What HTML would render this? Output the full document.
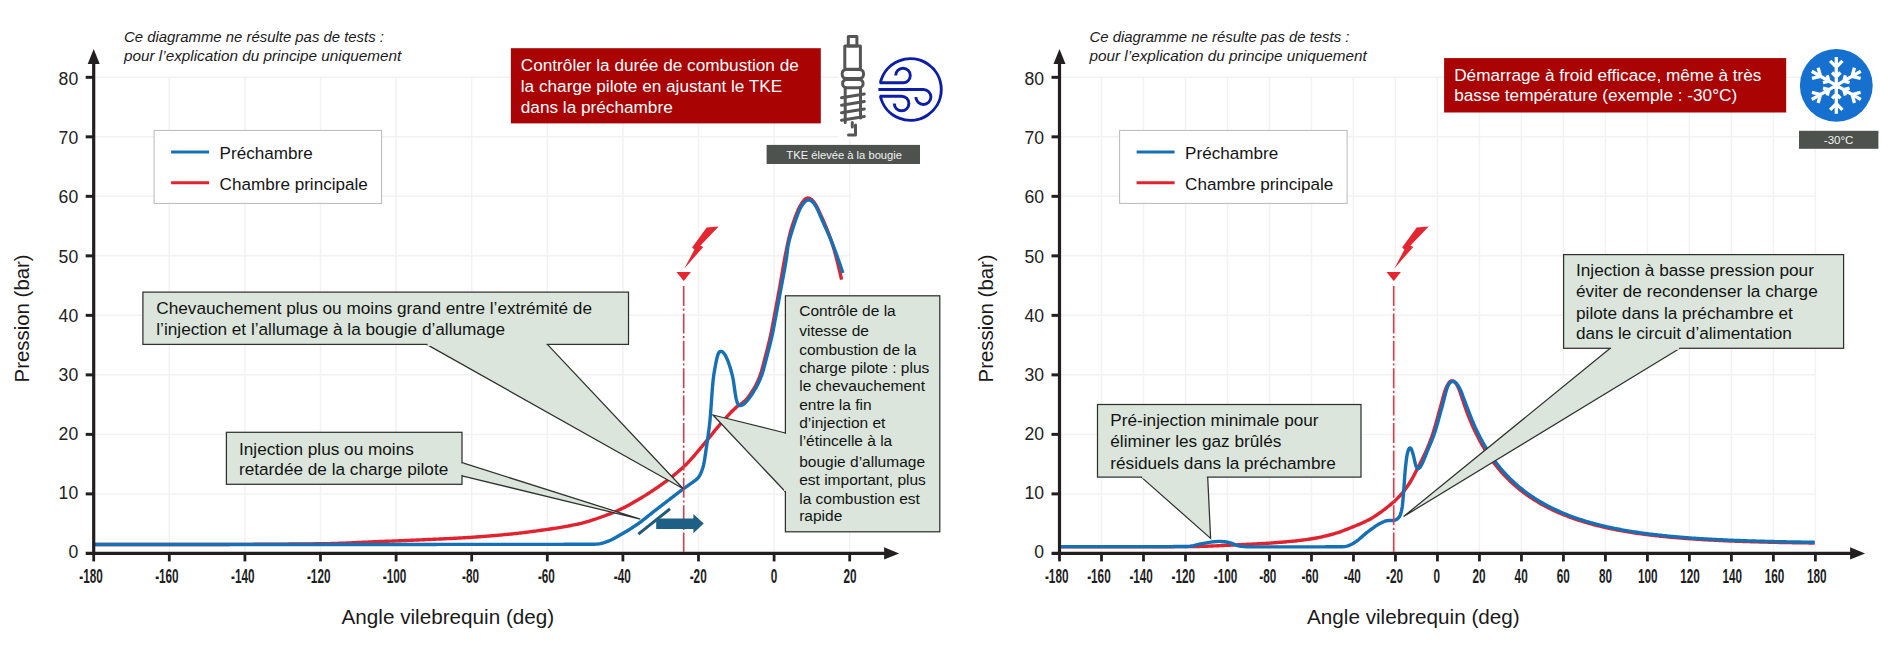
<!DOCTYPE html>
<html><head><meta charset="utf-8"><style>
html,body{margin:0;padding:0;background:#fff;}
svg{display:block;font-family:"Liberation Sans", sans-serif;}
</style></head><body>
<svg width="1900" height="659" viewBox="0 0 1900 659">
<rect width="1900" height="659" fill="#fff"/>
<line x1="169.3" y1="77.32" x2="169.3" y2="553.4" stroke="#f2f2f2" stroke-width="1.5"/>
<line x1="244.9" y1="77.32" x2="244.9" y2="553.4" stroke="#f2f2f2" stroke-width="1.5"/>
<line x1="320.5" y1="77.32" x2="320.5" y2="553.4" stroke="#f2f2f2" stroke-width="1.5"/>
<line x1="396.1" y1="77.32" x2="396.1" y2="553.4" stroke="#f2f2f2" stroke-width="1.5"/>
<line x1="471.7" y1="77.32" x2="471.7" y2="553.4" stroke="#f2f2f2" stroke-width="1.5"/>
<line x1="547.3" y1="77.32" x2="547.3" y2="553.4" stroke="#f2f2f2" stroke-width="1.5"/>
<line x1="622.9" y1="77.32" x2="622.9" y2="553.4" stroke="#f2f2f2" stroke-width="1.5"/>
<line x1="698.5" y1="77.32" x2="698.5" y2="553.4" stroke="#f2f2f2" stroke-width="1.5"/>
<line x1="774.1" y1="77.32" x2="774.1" y2="553.4" stroke="#f2f2f2" stroke-width="1.5"/>
<line x1="849.7" y1="77.32" x2="849.7" y2="553.4" stroke="#f2f2f2" stroke-width="1.5"/>
<line x1="93.7" y1="493.89" x2="849.7" y2="493.89" stroke="#f2f2f2" stroke-width="1.5"/>
<line x1="93.7" y1="434.38" x2="849.7" y2="434.38" stroke="#f2f2f2" stroke-width="1.5"/>
<line x1="93.7" y1="374.87" x2="849.7" y2="374.87" stroke="#f2f2f2" stroke-width="1.5"/>
<line x1="93.7" y1="315.36" x2="849.7" y2="315.36" stroke="#f2f2f2" stroke-width="1.5"/>
<line x1="93.7" y1="255.85" x2="849.7" y2="255.85" stroke="#f2f2f2" stroke-width="1.5"/>
<line x1="93.7" y1="196.34" x2="849.7" y2="196.34" stroke="#f2f2f2" stroke-width="1.5"/>
<line x1="93.7" y1="136.83" x2="849.7" y2="136.83" stroke="#f2f2f2" stroke-width="1.5"/>
<line x1="93.7" y1="77.32" x2="849.7" y2="77.32" stroke="#f2f2f2" stroke-width="1.5"/>
<line x1="1101.5" y1="77.32" x2="1101.5" y2="553.4" stroke="#f2f2f2" stroke-width="1.5"/>
<line x1="1143.49" y1="77.32" x2="1143.49" y2="553.4" stroke="#f2f2f2" stroke-width="1.5"/>
<line x1="1185.49" y1="77.32" x2="1185.49" y2="553.4" stroke="#f2f2f2" stroke-width="1.5"/>
<line x1="1227.48" y1="77.32" x2="1227.48" y2="553.4" stroke="#f2f2f2" stroke-width="1.5"/>
<line x1="1269.47" y1="77.32" x2="1269.47" y2="553.4" stroke="#f2f2f2" stroke-width="1.5"/>
<line x1="1311.47" y1="77.32" x2="1311.47" y2="553.4" stroke="#f2f2f2" stroke-width="1.5"/>
<line x1="1353.46" y1="77.32" x2="1353.46" y2="553.4" stroke="#f2f2f2" stroke-width="1.5"/>
<line x1="1395.46" y1="77.32" x2="1395.46" y2="553.4" stroke="#f2f2f2" stroke-width="1.5"/>
<line x1="1437.45" y1="77.32" x2="1437.45" y2="553.4" stroke="#f2f2f2" stroke-width="1.5"/>
<line x1="1479.44" y1="77.32" x2="1479.44" y2="553.4" stroke="#f2f2f2" stroke-width="1.5"/>
<line x1="1521.44" y1="77.32" x2="1521.44" y2="553.4" stroke="#f2f2f2" stroke-width="1.5"/>
<line x1="1563.43" y1="77.32" x2="1563.43" y2="553.4" stroke="#f2f2f2" stroke-width="1.5"/>
<line x1="1605.43" y1="77.32" x2="1605.43" y2="553.4" stroke="#f2f2f2" stroke-width="1.5"/>
<line x1="1647.42" y1="77.32" x2="1647.42" y2="553.4" stroke="#f2f2f2" stroke-width="1.5"/>
<line x1="1689.41" y1="77.32" x2="1689.41" y2="553.4" stroke="#f2f2f2" stroke-width="1.5"/>
<line x1="1731.41" y1="77.32" x2="1731.41" y2="553.4" stroke="#f2f2f2" stroke-width="1.5"/>
<line x1="1773.4" y1="77.32" x2="1773.4" y2="553.4" stroke="#f2f2f2" stroke-width="1.5"/>
<line x1="1815.4" y1="77.32" x2="1815.4" y2="553.4" stroke="#f2f2f2" stroke-width="1.5"/>
<line x1="1059.5" y1="493.89" x2="1815.4" y2="493.89" stroke="#f2f2f2" stroke-width="1.5"/>
<line x1="1059.5" y1="434.38" x2="1815.4" y2="434.38" stroke="#f2f2f2" stroke-width="1.5"/>
<line x1="1059.5" y1="374.87" x2="1815.4" y2="374.87" stroke="#f2f2f2" stroke-width="1.5"/>
<line x1="1059.5" y1="315.36" x2="1815.4" y2="315.36" stroke="#f2f2f2" stroke-width="1.5"/>
<line x1="1059.5" y1="255.85" x2="1815.4" y2="255.85" stroke="#f2f2f2" stroke-width="1.5"/>
<line x1="1059.5" y1="196.34" x2="1815.4" y2="196.34" stroke="#f2f2f2" stroke-width="1.5"/>
<line x1="1059.5" y1="136.83" x2="1815.4" y2="136.83" stroke="#f2f2f2" stroke-width="1.5"/>
<line x1="1059.5" y1="77.32" x2="1815.4" y2="77.32" stroke="#f2f2f2" stroke-width="1.5"/>
<rect x="154.1" y="130.4" width="227.5" height="73" fill="#fff" stroke="#b9b9b9" stroke-width="1"/>
<line x1="171.1" y1="152.1" x2="209.1" y2="152.1" stroke="#1670b5" stroke-width="3"/>
<line x1="171.1" y1="182.7" x2="209.1" y2="182.7" stroke="#e1232f" stroke-width="3"/>
<text x="219.6" y="158.7" font-size="17.1" fill="#141414" text-anchor="start" >Préchambre</text>
<text x="219.6" y="189.9" font-size="17.1" fill="#141414" text-anchor="start" >Chambre principale</text>
<rect x="1119.6" y="130.4" width="227.5" height="73" fill="#fff" stroke="#b9b9b9" stroke-width="1"/>
<line x1="1136.6" y1="152.1" x2="1174.6" y2="152.1" stroke="#1670b5" stroke-width="3"/>
<line x1="1136.6" y1="182.7" x2="1174.6" y2="182.7" stroke="#e1232f" stroke-width="3"/>
<text x="1185.1" y="158.7" font-size="17.1" fill="#141414" text-anchor="start" >Préchambre</text>
<text x="1185.1" y="189.9" font-size="17.1" fill="#141414" text-anchor="start" >Chambre principale</text>
<text x="124" y="41.8" font-size="14.9" fill="#1a1a1a" text-anchor="start" font-style="italic">Ce diagramme ne résulte pas de tests :</text>
<text x="124" y="60.6" font-size="15.3" fill="#1a1a1a" text-anchor="start" font-style="italic">pour l’explication du principe uniquement</text>
<text x="1089.5" y="41.8" font-size="14.9" fill="#1a1a1a" text-anchor="start" font-style="italic">Ce diagramme ne résulte pas de tests :</text>
<text x="1089.5" y="60.6" font-size="15.3" fill="#1a1a1a" text-anchor="start" font-style="italic">pour l’explication du principe uniquement</text>
<path d="M94.46,544.48L95.44,544.48L96.75,544.48L98.22,544.48L99.72,544.49L101.22,544.49L102.72,544.49L104.23,544.49L105.73,544.5L107.23,544.5L108.74,544.5L110.24,544.5L111.75,544.51L113.25,544.51L114.75,544.51L116.26,544.51L117.76,544.51L119.27,544.51L120.77,544.52L122.27,544.52L123.78,544.52L125.28,544.52L126.79,544.52L128.29,544.52L129.79,544.52L131.3,544.52L132.8,544.52L134.3,544.52L135.81,544.52L137.31,544.52L138.82,544.52L140.32,544.52L141.82,544.52L143.33,544.52L144.83,544.52L146.34,544.52L147.84,544.52L149.34,544.52L150.85,544.52L152.35,544.52L153.85,544.52L155.36,544.52L156.86,544.52L158.37,544.52L159.87,544.52L161.37,544.51L162.88,544.51L164.38,544.51L165.89,544.51L167.39,544.51L168.89,544.51L170.4,544.51L171.9,544.51L173.41,544.51L174.91,544.5L176.41,544.5L177.92,544.5L179.42,544.5L180.92,544.5L182.43,544.5L183.93,544.5L185.44,544.49L186.94,544.49L188.44,544.49L189.95,544.49L191.45,544.49L192.96,544.49L194.46,544.49L195.96,544.48L197.47,544.48L198.97,544.48L200.47,544.48L201.98,544.48L203.48,544.48L204.99,544.48L206.49,544.47L207.99,544.47L209.5,544.47L211,544.47L212.51,544.47L214.01,544.46L215.51,544.46L217.02,544.46L218.52,544.46L220.03,544.45L221.53,544.45L223.03,544.45L224.54,544.44L226.04,544.44L227.54,544.43L229.05,544.43L230.55,544.42L232.06,544.42L233.56,544.41L235.06,544.41L236.57,544.4L238.07,544.4L239.58,544.39L241.08,544.39L242.58,544.38L244.09,544.37L245.59,544.37L247.09,544.36L248.6,544.35L250.1,544.34L251.61,544.34L253.11,544.33L254.61,544.32L256.12,544.31L257.62,544.3L259.13,544.29L260.63,544.28L262.13,544.28L263.64,544.27L265.14,544.26L266.64,544.25L268.15,544.24L269.65,544.23L271.16,544.22L272.66,544.21L274.16,544.19L275.67,544.18L277.17,544.17L278.68,544.16L280.18,544.15L281.68,544.14L283.19,544.12L284.69,544.11L286.19,544.1L287.7,544.09L289.2,544.07L290.71,544.06L292.21,544.05L293.71,544.03L295.22,544.02L296.72,544.01L298.22,543.99L299.73,543.98L301.23,543.96L302.74,543.95L304.24,543.93L305.74,543.92L307.25,543.9L308.75,543.89L310.26,543.87L311.76,543.86L313.26,543.84L314.77,543.82L316.27,543.81L317.77,543.79L319.28,543.77L320.78,543.75L322.29,543.73L323.79,543.71L325.29,543.68L326.8,543.65L328.3,543.62L329.8,543.58L331.31,543.55L332.81,543.5L334.31,543.46L335.82,543.41L337.32,543.36L338.82,543.31L340.33,543.26L341.83,543.2L343.33,543.15L344.83,543.09L346.34,543.03L347.84,542.97L349.34,542.9L350.84,542.84L352.35,542.77L353.85,542.71L355.35,542.64L356.85,542.57L358.36,542.5L359.86,542.43L361.36,542.37L362.86,542.3L364.36,542.23L365.87,542.16L367.37,542.09L368.87,542.02L370.37,541.95L371.88,541.89L373.38,541.82L374.88,541.75L376.38,541.69L377.89,541.63L379.39,541.56L380.89,541.5L382.39,541.44L383.9,541.38L385.4,541.32L386.9,541.26L388.4,541.2L389.91,541.14L391.41,541.08L392.91,541.02L394.42,540.96L395.92,540.9L397.42,540.84L398.92,540.78L400.43,540.72L401.93,540.65L403.43,540.59L404.93,540.53L406.44,540.47L407.94,540.41L409.44,540.34L410.94,540.28L412.45,540.22L413.95,540.15L415.45,540.09L416.95,540.03L418.46,539.96L419.96,539.9L421.46,539.83L422.96,539.77L424.47,539.7L425.97,539.63L427.47,539.57L428.97,539.5L430.48,539.43L431.98,539.36L433.48,539.3L434.98,539.23L436.49,539.16L437.99,539.09L439.49,539.02L440.99,538.95L442.49,538.88L444,538.8L445.5,538.73L447,538.66L448.5,538.59L450,538.51L451.51,538.44L453.01,538.36L454.51,538.29L456.01,538.21L457.51,538.13L459.02,538.06L460.52,537.98L462.02,537.9L463.52,537.81L465.02,537.73L466.52,537.64L468.03,537.54L469.53,537.45L471.03,537.35L472.53,537.25L474.03,537.15L475.53,537.04L477.03,536.93L478.53,536.82L480.03,536.71L481.53,536.6L483.03,536.48L484.53,536.36L486.02,536.24L487.52,536.12L489.02,536L490.52,535.87L492.02,535.75L493.52,535.62L495.02,535.49L496.51,535.36L498.01,535.22L499.51,535.09L501.01,534.96L502.51,534.82L504,534.68L505.5,534.55L507,534.41L508.5,534.27L509.99,534.13L511.49,533.98L512.99,533.83L514.48,533.68L515.98,533.52L517.47,533.35L518.97,533.18L520.46,533.01L521.95,532.83L523.45,532.65L524.94,532.46L526.43,532.27L527.92,532.08L529.41,531.88L530.9,531.68L532.39,531.48L533.88,531.28L535.37,531.08L536.86,530.87L538.35,530.67L539.84,530.46L541.33,530.25L542.82,530.04L544.31,529.84L545.8,529.63L547.29,529.42L548.78,529.21L550.27,528.99L551.76,528.77L553.24,528.55L554.73,528.32L556.21,528.09L557.7,527.85L559.18,527.61L560.67,527.36L562.15,527.11L563.63,526.85L565.11,526.59L566.59,526.32L568.07,526.05L569.55,525.77L571.03,525.48L572.5,525.19L573.98,524.9L575.45,524.6L576.92,524.29L578.39,523.97L579.86,523.64L581.32,523.29L582.78,522.92L584.23,522.54L585.68,522.14L587.13,521.72L588.57,521.3L590.01,520.85L591.44,520.4L592.87,519.94L594.3,519.47L595.72,518.99L597.15,518.5L598.57,518.01L599.99,517.51L601.4,517.01L602.82,516.5L604.24,515.99L605.65,515.48L607.06,514.97L608.47,514.45L609.88,513.92L611.28,513.37L612.67,512.8L614.06,512.22L615.44,511.63L616.82,511.02L618.19,510.4L619.55,509.76L620.91,509.12L622.26,508.47L623.61,507.8L624.96,507.13L626.29,506.43L627.62,505.73L628.94,505L630.25,504.27L631.56,503.53L632.86,502.78L634.16,502.03L635.46,501.27L636.76,500.51L638.06,499.75L639.35,498.98L640.64,498.21L641.93,497.44L643.22,496.66L644.5,495.88L645.78,495.08L647.05,494.28L648.32,493.48L649.59,492.66L650.85,491.84L652.1,491.01L653.35,490.17L654.59,489.33L655.84,488.48L657.08,487.63L658.31,486.77L659.55,485.91L660.78,485.05L662,484.18L663.22,483.3L664.44,482.42L665.66,481.53L666.86,480.64L668.07,479.73L669.27,478.83L670.46,477.91L671.65,476.99L672.83,476.06L674,475.12L675.17,474.17L676.33,473.21L677.49,472.25L678.63,471.28L679.77,470.3L680.91,469.31L682.03,468.31L683.15,467.3L684.25,466.28L685.33,465.24L686.4,464.18L687.46,463.11L688.5,462.03L689.53,460.93L690.54,459.82L691.55,458.7L692.55,457.58L693.54,456.44L694.52,455.31L695.49,454.16L696.47,453.01L697.43,451.86L698.4,450.71L699.36,449.55L700.32,448.4L701.28,447.24L702.24,446.08L703.2,444.93L704.17,443.77L705.13,442.62L706.1,441.47L707.06,440.31L708.02,439.15L708.96,437.98L709.91,436.81L710.84,435.63L711.78,434.45L712.71,433.28L713.65,432.1L714.6,430.93L715.55,429.77L716.5,428.61L717.47,427.46L718.45,426.31L719.43,425.18L720.42,424.04L721.41,422.91L722.4,421.78L723.39,420.65L724.39,419.52L725.39,418.4L726.4,417.28L727.41,416.17L728.43,415.07L729.46,413.97L730.5,412.88L731.54,411.8L732.6,410.73L733.67,409.68L734.76,408.64L735.87,407.63L737.02,406.66L738.22,405.76L739.46,404.91L740.72,404.1L741.97,403.27L743.18,402.39L744.33,401.43L745.41,400.39L746.43,399.29L747.39,398.14L748.32,396.96L749.22,395.75L750.09,394.53L750.94,393.29L751.78,392.04L752.61,390.79L753.42,389.52L754.2,388.24L754.95,386.93L755.66,385.61L756.34,384.27L756.99,382.91L757.61,381.55L758.21,380.17L758.79,378.78L759.35,377.38L759.89,375.98L760.4,374.57L760.89,373.14L761.34,371.71L761.77,370.27L762.18,368.82L762.57,367.37L762.96,365.92L763.34,364.46L763.71,363.01L764.09,361.55L764.46,360.09L764.83,358.64L765.21,357.18L765.59,355.72L765.97,354.27L766.35,352.82L766.73,351.36L767.11,349.9L767.48,348.45L767.85,346.99L768.22,345.53L768.58,344.07L768.93,342.61L769.29,341.15L769.63,339.68L769.97,338.22L770.3,336.75L770.63,335.28L770.94,333.81L771.25,332.34L771.55,330.87L771.85,329.39L772.13,327.92L772.41,326.44L772.69,324.96L772.97,323.48L773.24,322.01L773.52,320.53L773.79,319.05L774.07,317.57L774.34,316.09L774.62,314.61L774.9,313.13L775.18,311.66L775.45,310.18L775.73,308.7L776.01,307.22L776.28,305.74L776.56,304.27L776.83,302.79L777.11,301.31L777.38,299.83L777.66,298.35L777.93,296.87L778.2,295.39L778.47,293.91L778.74,292.43L779.01,290.96L779.28,289.48L779.55,288L779.82,286.52L780.08,285.04L780.35,283.56L780.6,282.07L780.86,280.59L781.12,279.11L781.37,277.63L781.63,276.15L781.88,274.66L782.13,273.18L782.38,271.7L782.64,270.22L782.89,268.73L783.15,267.25L783.4,265.77L783.66,264.29L783.92,262.81L784.19,261.33L784.46,259.85L784.73,258.37L785.01,256.89L785.3,255.41L785.59,253.94L785.88,252.46L786.17,250.99L786.47,249.51L786.77,248.04L787.07,246.57L787.38,245.1L787.69,243.62L788,242.15L788.33,240.68L788.66,239.22L788.99,237.75L789.34,236.29L789.7,234.83L790.07,233.37L790.45,231.92L790.86,230.47L791.27,229.02L791.7,227.58L792.15,226.15L792.61,224.71L793.08,223.29L793.57,221.86L794.06,220.44L794.58,219.03L795.1,217.62L795.63,216.21L796.17,214.81L796.71,213.41L797.26,212.01L797.83,210.62L798.44,209.24L799.09,207.89L799.8,206.57L800.56,205.27L801.34,203.99L802.16,202.73L803.02,201.5L803.95,200.33L804.98,199.29L806.15,198.48L807.43,198.05L808.77,198.08L810.07,198.55L811.27,199.35L812.37,200.34L813.38,201.44L814.31,202.62L815.17,203.85L815.96,205.12L816.69,206.43L817.38,207.77L818.04,209.12L818.68,210.48L819.31,211.84L819.93,213.21L820.55,214.58L821.17,215.95L821.8,217.32L822.42,218.69L823.04,220.06L823.65,221.43L824.26,222.81L824.85,224.19L825.44,225.57L826.02,226.96L826.59,228.35L827.16,229.75L827.71,231.14L828.26,232.55L828.79,233.95L829.32,235.36L829.84,236.77L830.36,238.18L830.86,239.6L831.36,241.02L831.84,242.44L832.31,243.87L832.77,245.3L833.21,246.74L833.65,248.18L834.07,249.62L834.48,251.07L834.89,252.52L835.29,253.97L835.68,255.42L836.07,256.87L836.45,258.33L836.82,259.78L837.19,261.24L837.56,262.7L837.92,264.16L838.28,265.62L838.64,267.08L838.99,268.54L839.35,270L839.7,271.47L840.04,272.93L840.39,274.39L840.73,275.85L841.07,277.27L841.37,278.56L841.59,279.51" fill="none" stroke="#e1232f" stroke-width="3.4" stroke-linejoin="round"/>
<path d="M94.46,544.47L95.44,544.47L96.75,544.47L98.22,544.47L99.72,544.47L101.22,544.47L102.72,544.48L104.23,544.48L105.73,544.48L107.23,544.48L108.74,544.48L110.24,544.48L111.75,544.48L113.25,544.48L114.75,544.48L116.26,544.48L117.76,544.48L119.26,544.48L120.77,544.48L122.27,544.48L123.78,544.48L125.28,544.48L126.78,544.48L128.29,544.48L129.79,544.48L131.3,544.48L132.8,544.48L134.3,544.48L135.81,544.48L137.31,544.48L138.81,544.48L140.32,544.48L141.82,544.48L143.33,544.48L144.83,544.48L146.33,544.48L147.84,544.48L149.34,544.48L150.84,544.48L152.35,544.48L153.85,544.48L155.36,544.48L156.86,544.48L158.36,544.48L159.87,544.48L161.37,544.48L162.88,544.48L164.38,544.48L165.88,544.48L167.39,544.48L168.89,544.48L170.39,544.48L171.9,544.48L173.4,544.48L174.91,544.48L176.41,544.48L177.91,544.48L179.42,544.48L180.92,544.48L182.42,544.48L183.93,544.48L185.43,544.48L186.94,544.48L188.44,544.48L189.94,544.48L191.45,544.48L192.95,544.48L194.46,544.48L195.96,544.48L197.46,544.48L198.97,544.48L200.47,544.48L201.97,544.48L203.48,544.48L204.98,544.48L206.49,544.48L207.99,544.48L209.49,544.48L211,544.48L212.5,544.48L214,544.48L215.51,544.48L217.01,544.48L218.52,544.48L220.02,544.48L221.52,544.48L223.03,544.48L224.53,544.48L226.03,544.48L227.54,544.48L229.04,544.48L230.55,544.48L232.05,544.48L233.55,544.48L235.06,544.48L236.56,544.48L238.07,544.48L239.57,544.48L241.07,544.48L242.58,544.48L244.08,544.48L245.58,544.48L247.09,544.48L248.59,544.48L250.1,544.48L251.6,544.48L253.1,544.48L254.61,544.48L256.11,544.48L257.61,544.48L259.12,544.48L260.62,544.48L262.13,544.48L263.63,544.48L265.13,544.48L266.64,544.48L268.14,544.48L269.65,544.48L271.15,544.48L272.65,544.48L274.16,544.48L275.66,544.48L277.16,544.48L278.67,544.48L280.17,544.48L281.68,544.48L283.18,544.48L284.68,544.48L286.19,544.48L287.69,544.48L289.19,544.48L290.7,544.48L292.2,544.48L293.71,544.48L295.21,544.48L296.71,544.48L298.22,544.48L299.72,544.48L301.23,544.47L302.73,544.47L304.23,544.47L305.74,544.47L307.24,544.47L308.74,544.47L310.25,544.47L311.75,544.47L313.26,544.47L314.76,544.47L316.26,544.47L317.77,544.47L319.27,544.47L320.77,544.47L322.28,544.47L323.78,544.47L325.29,544.47L326.79,544.47L328.29,544.47L329.8,544.47L331.3,544.47L332.81,544.47L334.31,544.47L335.81,544.47L337.32,544.47L338.82,544.47L340.32,544.47L341.83,544.47L343.33,544.47L344.84,544.47L346.34,544.47L347.84,544.47L349.35,544.47L350.85,544.47L352.35,544.47L353.86,544.47L355.36,544.47L356.87,544.47L358.37,544.47L359.87,544.47L361.38,544.46L362.88,544.46L364.39,544.46L365.89,544.46L367.39,544.46L368.9,544.46L370.4,544.46L371.9,544.46L373.41,544.46L374.91,544.46L376.42,544.46L377.92,544.46L379.42,544.46L380.93,544.46L382.43,544.46L383.93,544.46L385.44,544.45L386.94,544.45L388.45,544.45L389.95,544.45L391.45,544.45L392.96,544.45L394.46,544.45L395.97,544.45L397.47,544.45L398.97,544.45L400.48,544.45L401.98,544.45L403.48,544.45L404.99,544.44L406.49,544.44L408,544.44L409.5,544.44L411,544.44L412.51,544.44L414.01,544.44L415.51,544.44L417.02,544.44L418.52,544.44L420.03,544.44L421.53,544.43L423.03,544.43L424.54,544.43L426.04,544.43L427.55,544.43L429.05,544.43L430.55,544.43L432.06,544.43L433.56,544.43L435.06,544.43L436.57,544.43L438.07,544.42L439.58,544.42L441.08,544.42L442.58,544.42L444.09,544.42L445.59,544.42L447.09,544.42L448.6,544.42L450.1,544.42L451.61,544.42L453.11,544.41L454.61,544.41L456.12,544.41L457.62,544.41L459.13,544.41L460.63,544.41L462.13,544.41L463.64,544.41L465.14,544.41L466.64,544.41L468.15,544.4L469.65,544.4L471.16,544.4L472.66,544.4L474.16,544.4L475.67,544.4L477.17,544.4L478.67,544.4L480.18,544.4L481.68,544.4L483.19,544.39L484.69,544.39L486.19,544.39L487.7,544.39L489.2,544.39L490.7,544.39L492.21,544.39L493.71,544.39L495.22,544.39L496.72,544.39L498.22,544.38L499.73,544.38L501.23,544.38L502.74,544.38L504.24,544.38L505.74,544.38L507.25,544.38L508.75,544.38L510.25,544.38L511.76,544.38L513.26,544.37L514.77,544.37L516.27,544.37L517.77,544.37L519.28,544.37L520.78,544.37L522.28,544.37L523.79,544.37L525.29,544.37L526.8,544.37L528.3,544.37L529.8,544.36L531.31,544.36L532.81,544.36L534.32,544.36L535.82,544.36L537.32,544.36L538.83,544.36L540.33,544.36L541.83,544.36L543.34,544.36L544.84,544.36L546.35,544.35L547.85,544.35L549.35,544.35L550.86,544.35L552.36,544.35L553.86,544.35L555.37,544.34L556.87,544.34L558.38,544.34L559.88,544.33L561.38,544.33L562.89,544.33L564.39,544.32L565.9,544.32L567.4,544.31L568.9,544.31L570.41,544.3L571.91,544.29L573.41,544.29L574.92,544.28L576.42,544.28L577.93,544.27L579.43,544.26L580.93,544.25L582.44,544.25L583.94,544.24L585.44,544.23L586.95,544.23L588.45,544.22L589.96,544.21L591.46,544.2L592.96,544.19L594.47,544.18L595.97,544.14L597.47,544.04L598.95,543.87L600.43,543.6L601.89,543.26L603.34,542.86L604.78,542.42L606.2,541.95L607.62,541.44L609.01,540.89L610.39,540.28L611.75,539.64L613.09,538.96L614.42,538.26L615.73,537.53L617.04,536.79L618.35,536.04L619.65,535.29L620.95,534.53L622.25,533.78L623.55,533.03L624.85,532.27L626.14,531.5L627.43,530.72L628.71,529.93L629.98,529.13L631.25,528.32L632.51,527.5L633.76,526.68L635.01,525.84L636.26,524.99L637.5,524.14L638.73,523.28L639.95,522.41L641.17,521.52L642.37,520.62L643.56,519.7L644.74,518.77L645.92,517.84L647.09,516.89L648.26,515.95L649.43,515L650.6,514.06L651.78,513.12L652.96,512.19L654.14,511.26L655.33,510.34L656.52,509.42L657.71,508.5L658.9,507.58L660.09,506.66L661.28,505.74L662.47,504.82L663.66,503.9L664.85,502.99L666.04,502.07L667.24,501.15L668.43,500.24L669.62,499.32L670.82,498.41L672.01,497.49L673.2,496.58L674.4,495.67L675.59,494.75L676.79,493.84L677.99,492.93L679.18,492.02L680.38,491.11L681.58,490.2L682.78,489.3L683.99,488.4L685.2,487.51L686.43,486.64L687.66,485.78L688.9,484.93L690.14,484.08L691.37,483.22L692.6,482.36L693.82,481.47L695.02,480.57L696.19,479.63L697.3,478.63L698.31,477.54L699.18,476.34L699.93,475.05L700.59,473.71L701.18,472.32L701.72,470.92L702.23,469.51L702.7,468.08L703.13,466.64L703.52,465.19L703.86,463.73L704.15,462.25L704.42,460.77L704.66,459.29L704.89,457.81L705.12,456.32L705.33,454.83L705.55,453.34L705.76,451.85L705.97,450.36L706.18,448.87L706.39,447.39L706.61,445.9L706.83,444.41L707.05,442.92L707.28,441.44L707.5,439.95L707.72,438.46L707.94,436.97L708.15,435.48L708.35,433.99L708.56,432.5L708.75,431.01L708.95,429.52L709.13,428.03L709.31,426.54L709.49,425.04L709.66,423.55L709.81,422.05L709.96,420.56L710.1,419.06L710.23,417.56L710.36,416.06L710.48,414.56L710.59,413.07L710.71,411.57L710.82,410.07L710.93,408.57L711.04,407.07L711.15,405.57L711.25,404.07L711.36,402.57L711.46,401.07L711.57,399.57L711.68,398.07L711.78,396.57L711.89,395.07L712,393.57L712.11,392.07L712.22,390.57L712.34,389.07L712.45,387.57L712.58,386.07L712.7,384.57L712.84,383.07L712.98,381.58L713.13,380.08L713.3,378.59L713.49,377.1L713.71,375.61L713.93,374.12L714.17,372.64L714.42,371.15L714.66,369.67L714.92,368.19L715.18,366.71L715.46,365.23L715.74,363.75L716.03,362.28L716.34,360.8L716.66,359.34L717.01,357.87L717.39,356.42L717.82,354.99L718.34,353.61L719.01,352.4L719.9,351.56L720.98,351.31L722.13,351.69L723.21,352.52L724.16,353.62L725,354.85L725.74,356.15L726.42,357.49L727.04,358.86L727.62,360.25L728.16,361.65L728.68,363.06L729.17,364.48L729.64,365.91L730.09,367.35L730.53,368.78L730.95,370.23L731.35,371.68L731.75,373.13L732.12,374.58L732.48,376.04L732.8,377.51L733.09,378.99L733.35,380.47L733.58,381.95L733.8,383.44L734.02,384.93L734.23,386.42L734.43,387.91L734.64,389.4L734.85,390.89L735.07,392.37L735.3,393.86L735.54,395.34L735.81,396.82L736.11,398.29L736.46,399.76L736.85,401.2L737.3,402.62L737.87,403.92L738.65,404.94L739.71,405.49L740.96,405.49L742.26,405.05L743.51,404.31L744.67,403.38L745.74,402.34L746.74,401.23L747.7,400.07L748.63,398.89L749.53,397.68L750.4,396.46L751.26,395.22L752.09,393.97L752.92,392.72L753.73,391.45L754.53,390.18L755.31,388.89L756.06,387.59L756.79,386.28L757.48,384.94L758.15,383.6L758.79,382.24L759.41,380.86L760,379.48L760.58,378.09L761.13,376.7L761.66,375.29L762.16,373.87L762.62,372.44L763.06,371L763.48,369.56L763.88,368.11L764.28,366.66L764.66,365.21L765.03,363.75L765.41,362.29L765.78,360.84L766.15,359.38L766.53,357.92L766.91,356.47L767.29,355.01L767.67,353.56L768.05,352.1L768.43,350.65L768.8,349.19L769.18,347.73L769.54,346.28L769.91,344.82L770.27,343.36L770.62,341.89L770.97,340.43L771.31,338.97L771.64,337.5L771.97,336.03L772.3,334.57L772.61,333.09L772.91,331.62L773.21,330.15L773.5,328.67L773.78,327.2L774.06,325.72L774.34,324.24L774.61,322.76L774.89,321.28L775.16,319.8L775.44,318.33L775.71,316.85L775.99,315.37L776.27,313.89L776.54,312.41L776.82,310.94L777.1,309.46L777.38,307.98L777.65,306.5L777.93,305.02L778.2,303.54L778.48,302.07L778.75,300.59L779.02,299.11L779.3,297.63L779.57,296.15L779.84,294.67L780.11,293.19L780.38,291.71L780.65,290.23L780.92,288.75L781.2,287.28L781.47,285.8L781.74,284.32L782.02,282.84L782.3,281.36L782.58,279.89L782.87,278.41L783.15,276.93L783.43,275.45L783.71,273.98L783.99,272.5L784.26,271.02L784.53,269.54L784.8,268.06L785.06,266.58L785.32,265.1L785.57,263.62L785.81,262.13L786.05,260.65L786.28,259.16L786.5,257.67L786.72,256.19L786.91,254.69L787.08,253.2L787.24,251.71L787.39,250.21L787.57,248.72L787.8,247.23L788.07,245.76L788.37,244.28L788.7,242.82L789.04,241.35L789.41,239.89L789.8,238.44L790.2,236.99L790.63,235.55L791.07,234.11L791.52,232.68L791.97,231.24L792.42,229.81L792.88,228.38L793.34,226.95L793.8,225.51L794.26,224.08L794.74,222.66L795.22,221.23L795.71,219.81L796.22,218.4L796.74,216.99L797.26,215.58L797.79,214.17L798.33,212.76L798.88,211.37L799.47,209.98L800.1,208.62L800.8,207.3L801.58,206.01L802.41,204.77L803.3,203.56L804.25,202.4L805.29,201.35L806.44,200.49L807.71,199.95L809.05,199.86L810.36,200.24L811.56,200.99L812.66,201.97L813.64,203.08L814.55,204.27L815.39,205.52L816.16,206.8L816.88,208.12L817.55,209.47L818.18,210.83L818.79,212.21L819.39,213.58L819.98,214.97L820.57,216.35L821.16,217.74L821.75,219.12L822.35,220.5L822.96,221.87L823.58,223.24L824.2,224.61L824.82,225.98L825.43,227.36L826.05,228.73L826.66,230.1L827.28,231.47L827.88,232.85L828.49,234.23L829.08,235.61L829.67,236.99L830.26,238.37L830.84,239.76L831.41,241.15L831.98,242.55L832.54,243.94L833.09,245.34L833.63,246.74L834.17,248.15L834.7,249.55L835.23,250.96L835.75,252.37L836.26,253.79L836.77,255.2L837.28,256.62L837.78,258.04L838.27,259.46L838.77,260.88L839.26,262.3L839.75,263.72L840.23,265.14L840.71,266.57L841.19,267.99L841.66,269.42L842.13,270.8L842.54,272.05L842.85,272.98" fill="none" stroke="#1670b5" stroke-width="3.4" stroke-linejoin="round"/>
<path d="M1060.27,546.74L1061.24,546.74L1062.56,546.74L1064.02,546.74L1065.52,546.74L1067.02,546.74L1068.53,546.74L1070.03,546.74L1071.53,546.74L1073.04,546.74L1074.54,546.74L1076.04,546.74L1077.55,546.74L1079.05,546.74L1080.56,546.74L1082.06,546.74L1083.56,546.74L1085.07,546.74L1086.57,546.74L1088.07,546.74L1089.58,546.74L1091.08,546.74L1092.59,546.74L1094.09,546.74L1095.59,546.74L1097.1,546.74L1098.6,546.74L1100.1,546.74L1101.61,546.74L1103.11,546.74L1104.61,546.74L1106.12,546.74L1107.62,546.74L1109.13,546.74L1110.63,546.74L1112.13,546.74L1113.64,546.74L1115.14,546.74L1116.64,546.74L1118.15,546.74L1119.65,546.74L1121.16,546.74L1122.66,546.73L1124.16,546.73L1125.67,546.73L1127.17,546.73L1128.67,546.73L1130.18,546.73L1131.68,546.73L1133.18,546.73L1134.69,546.73L1136.19,546.73L1137.7,546.73L1139.2,546.72L1140.7,546.72L1142.21,546.72L1143.71,546.72L1145.21,546.72L1146.72,546.72L1148.22,546.71L1149.73,546.71L1151.23,546.71L1152.73,546.71L1154.24,546.71L1155.74,546.7L1157.24,546.7L1158.75,546.7L1160.25,546.7L1161.76,546.69L1163.26,546.69L1164.76,546.69L1166.27,546.69L1167.77,546.69L1169.27,546.68L1170.78,546.68L1172.28,546.68L1173.78,546.68L1175.29,546.67L1176.79,546.67L1178.3,546.66L1179.8,546.66L1181.3,546.65L1182.81,546.64L1184.31,546.63L1185.81,546.61L1187.32,546.6L1188.82,546.58L1190.32,546.57L1191.83,546.55L1193.33,546.53L1194.84,546.51L1196.34,546.49L1197.84,546.46L1199.35,546.43L1200.85,546.39L1202.35,546.35L1203.86,546.3L1205.36,546.25L1206.86,546.19L1208.36,546.14L1209.87,546.08L1211.37,546.02L1212.87,545.96L1214.37,545.9L1215.88,545.83L1217.38,545.77L1218.88,545.7L1220.38,545.63L1221.88,545.56L1223.39,545.49L1224.89,545.42L1226.39,545.34L1227.89,545.27L1229.39,545.19L1230.9,545.12L1232.4,545.05L1233.9,544.97L1235.4,544.9L1236.9,544.83L1238.4,544.76L1239.91,544.68L1241.41,544.61L1242.91,544.54L1244.41,544.46L1245.91,544.39L1247.42,544.32L1248.92,544.24L1250.42,544.17L1251.92,544.09L1253.42,544.02L1254.93,543.94L1256.43,543.86L1257.93,543.78L1259.43,543.7L1260.93,543.62L1262.43,543.54L1263.93,543.45L1265.44,543.37L1266.94,543.28L1268.44,543.18L1269.94,543.08L1271.44,542.98L1272.94,542.88L1274.44,542.77L1275.94,542.66L1277.44,542.55L1278.94,542.43L1280.44,542.31L1281.93,542.19L1283.43,542.06L1284.93,541.94L1286.43,541.81L1287.93,541.68L1289.43,541.55L1290.92,541.41L1292.42,541.27L1293.92,541.12L1295.41,540.96L1296.9,540.79L1298.4,540.61L1299.89,540.43L1301.38,540.24L1302.87,540.04L1304.36,539.84L1305.85,539.63L1307.34,539.42L1308.83,539.21L1310.32,538.99L1311.8,538.76L1313.29,538.52L1314.77,538.27L1316.25,538L1317.73,537.72L1319.2,537.42L1320.67,537.11L1322.14,536.79L1323.61,536.46L1325.07,536.11L1326.53,535.76L1327.99,535.39L1329.45,535.02L1330.9,534.63L1332.35,534.24L1333.8,533.84L1335.24,533.42L1336.68,532.99L1338.11,532.52L1339.54,532.04L1340.95,531.54L1342.36,531.02L1343.77,530.48L1345.17,529.94L1346.57,529.39L1347.97,528.83L1349.36,528.27L1350.76,527.71L1352.15,527.15L1353.55,526.59L1354.94,526.03L1356.34,525.46L1357.73,524.89L1359.12,524.31L1360.5,523.72L1361.88,523.12L1363.25,522.51L1364.62,521.88L1365.97,521.24L1367.32,520.57L1368.66,519.89L1369.99,519.18L1371.29,518.43L1372.58,517.66L1373.85,516.86L1375.12,516.04L1376.37,515.21L1377.61,514.37L1378.85,513.52L1380.09,512.66L1381.31,511.78L1382.53,510.9L1383.73,510L1384.93,509.09L1386.12,508.17L1387.3,507.24L1388.47,506.29L1389.63,505.34L1390.78,504.37L1391.93,503.4L1393.06,502.41L1394.19,501.42L1395.3,500.4L1396.38,499.36L1397.45,498.31L1398.5,497.23L1399.53,496.13L1400.54,495.02L1401.54,493.9L1402.52,492.75L1403.48,491.6L1404.41,490.42L1405.32,489.22L1406.21,488.01L1407.08,486.78L1407.93,485.54L1408.76,484.29L1409.58,483.03L1410.38,481.76L1411.16,480.47L1411.91,479.17L1412.65,477.86L1413.36,476.54L1414.05,475.2L1414.74,473.86L1415.42,472.52L1416.1,471.19L1416.79,469.85L1417.48,468.51L1418.18,467.18L1418.87,465.85L1419.56,464.51L1420.25,463.17L1420.94,461.84L1421.62,460.5L1422.3,459.15L1422.96,457.8L1423.62,456.45L1424.27,455.1L1424.91,453.73L1425.53,452.37L1426.15,451L1426.75,449.62L1427.35,448.24L1427.93,446.85L1428.5,445.46L1429.06,444.06L1429.6,442.66L1430.14,441.26L1430.67,439.85L1431.19,438.44L1431.69,437.02L1432.19,435.6L1432.67,434.18L1433.15,432.75L1433.6,431.32L1434.05,429.88L1434.48,428.45L1434.91,427L1435.33,425.56L1435.74,424.11L1436.15,422.67L1436.55,421.22L1436.95,419.77L1437.35,418.32L1437.75,416.87L1438.15,415.42L1438.55,413.97L1438.96,412.52L1439.36,411.07L1439.77,409.63L1440.18,408.18L1440.58,406.73L1440.98,405.28L1441.37,403.83L1441.76,402.37L1442.14,400.92L1442.52,399.47L1442.91,398.01L1443.3,396.56L1443.7,395.11L1444.11,393.67L1444.55,392.23L1445.02,390.8L1445.54,389.39L1446.1,388L1446.72,386.63L1447.39,385.29L1448.13,383.99L1448.96,382.77L1449.93,381.73L1451.07,381.05L1452.31,380.87L1453.55,381.25L1454.68,382.05L1455.67,383.12L1456.54,384.33L1457.31,385.61L1458,386.94L1458.62,388.31L1459.19,389.7L1459.71,391.1L1460.21,392.52L1460.7,393.95L1461.17,395.37L1461.65,396.8L1462.12,398.23L1462.6,399.65L1463.08,401.08L1463.57,402.5L1464.05,403.92L1464.54,405.35L1465.02,406.77L1465.5,408.19L1466,409.61L1466.51,411.03L1467.03,412.44L1467.57,413.84L1468.12,415.24L1468.67,416.64L1469.23,418.03L1469.8,419.43L1470.38,420.82L1470.96,422.2L1471.55,423.58L1472.15,424.96L1472.76,426.34L1473.38,427.71L1474,429.08L1474.64,430.44L1475.29,431.79L1475.95,433.15L1476.62,434.49L1477.29,435.84L1477.97,437.18L1478.67,438.51L1479.37,439.84L1480.08,441.17L1480.8,442.49L1481.53,443.8L1482.27,445.11L1483.03,446.41L1483.8,447.7L1484.58,448.99L1485.36,450.27L1486.16,451.54L1486.97,452.81L1487.78,454.07L1488.61,455.33L1489.45,456.58L1490.3,457.81L1491.17,459.04L1492.04,460.27L1492.93,461.48L1493.83,462.68L1494.74,463.88L1495.66,465.07L1496.59,466.25L1497.53,467.42L1498.49,468.59L1499.45,469.74L1500.43,470.88L1501.42,472.01L1502.43,473.13L1503.44,474.24L1504.46,475.35L1505.49,476.44L1506.54,477.52L1507.59,478.59L1508.66,479.65L1509.74,480.7L1510.83,481.73L1511.93,482.76L1513.03,483.78L1514.15,484.78L1515.28,485.77L1516.42,486.76L1517.57,487.72L1518.73,488.68L1519.9,489.63L1521.08,490.56L1522.26,491.48L1523.46,492.4L1524.66,493.3L1525.88,494.18L1527.1,495.06L1528.33,495.92L1529.57,496.77L1530.82,497.61L1532.07,498.44L1533.34,499.26L1534.61,500.06L1535.88,500.85L1537.17,501.64L1538.46,502.41L1539.76,503.17L1541.06,503.91L1542.37,504.65L1543.69,505.37L1545.02,506.08L1546.35,506.79L1547.68,507.48L1549.02,508.16L1550.37,508.83L1551.72,509.48L1553.08,510.13L1554.44,510.77L1555.81,511.39L1557.18,512.01L1558.55,512.62L1559.94,513.21L1561.32,513.8L1562.71,514.37L1564.1,514.94L1565.5,515.49L1566.9,516.04L1568.31,516.57L1569.71,517.1L1571.13,517.62L1572.54,518.13L1573.96,518.63L1575.38,519.12L1576.8,519.6L1578.23,520.07L1579.66,520.54L1581.09,521L1582.53,521.44L1583.97,521.88L1585.41,522.32L1586.85,522.74L1588.3,523.16L1589.74,523.56L1591.19,523.97L1592.64,524.36L1594.1,524.74L1595.55,525.12L1597.01,525.5L1598.47,525.86L1599.93,526.22L1601.39,526.57L1602.85,526.91L1604.32,527.25L1605.79,527.58L1607.25,527.91L1608.72,528.23L1610.19,528.54L1611.67,528.85L1613.14,529.15L1614.61,529.44L1616.09,529.73L1617.57,530.01L1619.04,530.29L1620.52,530.57L1622,530.83L1623.48,531.1L1624.96,531.35L1626.45,531.61L1627.93,531.85L1629.41,532.09L1630.9,532.33L1632.38,532.57L1633.87,532.79L1635.36,533.02L1636.84,533.24L1638.33,533.45L1639.82,533.66L1641.31,533.87L1642.8,534.07L1644.29,534.27L1645.78,534.47L1647.27,534.66L1648.77,534.85L1650.26,535.03L1651.75,535.21L1653.24,535.38L1654.74,535.56L1656.23,535.73L1657.73,535.89L1659.22,536.06L1660.72,536.21L1662.21,536.37L1663.71,536.52L1665.2,536.67L1666.7,536.82L1668.2,536.96L1669.69,537.11L1671.19,537.24L1672.69,537.38L1674.19,537.51L1675.69,537.64L1677.18,537.77L1678.68,537.9L1680.18,538.02L1681.68,538.14L1683.18,538.26L1684.68,538.37L1686.18,538.48L1687.68,538.6L1689.18,538.7L1690.68,538.81L1692.18,538.91L1693.68,539.02L1695.18,539.12L1696.68,539.21L1698.18,539.31L1699.68,539.41L1701.18,539.5L1702.68,539.59L1704.18,539.68L1705.68,539.76L1707.18,539.85L1708.69,539.93L1710.19,540.01L1711.69,540.09L1713.19,540.17L1714.69,540.25L1716.19,540.32L1717.7,540.4L1719.2,540.47L1720.7,540.54L1722.2,540.61L1723.7,540.68L1725.21,540.74L1726.71,540.81L1728.21,540.87L1729.71,540.94L1731.22,541L1732.72,541.06L1734.22,541.12L1735.72,541.18L1737.23,541.23L1738.73,541.29L1740.23,541.34L1741.73,541.39L1743.24,541.45L1744.74,541.5L1746.24,541.55L1747.75,541.6L1749.25,541.65L1750.75,541.69L1752.25,541.74L1753.76,541.78L1755.26,541.83L1756.76,541.87L1758.27,541.91L1759.77,541.96L1761.27,542L1762.78,542.04L1764.28,542.08L1765.78,542.11L1767.29,542.15L1768.79,542.19L1770.29,542.22L1771.8,542.26L1773.3,542.29L1774.8,542.33L1776.31,542.36L1777.81,542.39L1779.31,542.43L1780.82,542.46L1782.32,542.49L1783.82,542.52L1785.33,542.55L1786.83,542.58L1788.33,542.61L1789.84,542.63L1791.34,542.66L1792.84,542.69L1794.35,542.71L1795.85,542.74L1797.35,542.76L1798.86,542.79L1800.36,542.81L1801.86,542.84L1803.37,542.86L1804.87,542.88L1806.37,542.9L1807.88,542.92L1809.38,542.95L1810.88,542.97L1812.34,542.99L1813.66,543L1814.63,543.02" fill="none" stroke="#e1232f" stroke-width="3.4" stroke-linejoin="round"/>
<path d="M1060.27,546.62L1061.24,546.62L1062.56,546.62L1064.02,546.62L1065.52,546.62L1067.03,546.62L1068.53,546.62L1070.04,546.62L1071.54,546.62L1073.05,546.62L1074.55,546.62L1076.05,546.62L1077.56,546.62L1079.06,546.62L1080.57,546.62L1082.07,546.62L1083.58,546.62L1085.08,546.62L1086.59,546.62L1088.09,546.62L1089.6,546.62L1091.1,546.62L1092.61,546.62L1094.11,546.62L1095.61,546.62L1097.12,546.62L1098.62,546.62L1100.13,546.62L1101.63,546.62L1103.14,546.62L1104.64,546.62L1106.15,546.62L1107.65,546.62L1109.16,546.62L1110.66,546.62L1112.17,546.62L1113.67,546.62L1115.17,546.62L1116.68,546.62L1118.18,546.62L1119.69,546.62L1121.19,546.62L1122.7,546.62L1124.2,546.62L1125.71,546.62L1127.21,546.62L1128.72,546.62L1130.22,546.62L1131.73,546.62L1133.23,546.62L1134.73,546.62L1136.24,546.62L1137.74,546.62L1139.25,546.62L1140.75,546.62L1142.26,546.62L1143.76,546.62L1145.27,546.62L1146.77,546.61L1148.28,546.61L1149.78,546.61L1151.29,546.61L1152.79,546.61L1154.29,546.61L1155.8,546.61L1157.3,546.6L1158.81,546.6L1160.31,546.6L1161.82,546.6L1163.32,546.59L1164.83,546.59L1166.33,546.59L1167.84,546.59L1169.34,546.58L1170.85,546.58L1172.35,546.58L1173.85,546.57L1175.36,546.57L1176.86,546.57L1178.37,546.57L1179.87,546.56L1181.38,546.56L1182.88,546.55L1184.39,546.53L1185.89,546.5L1187.39,546.44L1188.89,546.34L1190.39,546.18L1191.87,545.96L1193.35,545.67L1194.81,545.33L1196.27,544.97L1197.73,544.61L1199.19,544.25L1200.66,543.93L1202.14,543.63L1203.62,543.36L1205.1,543.1L1206.58,542.85L1208.06,542.6L1209.55,542.37L1211.04,542.15L1212.53,541.94L1214.02,541.76L1215.52,541.61L1217.02,541.49L1218.52,541.41L1220.02,541.4L1221.52,541.45L1223.02,541.57L1224.51,541.74L1226,541.96L1227.48,542.22L1228.95,542.53L1230.4,542.91L1231.82,543.38L1233.21,543.94L1234.59,544.53L1235.98,545.1L1237.4,545.57L1238.85,545.93L1240.32,546.21L1241.81,546.41L1243.31,546.56L1244.81,546.66L1246.31,546.72L1247.81,546.75L1249.32,546.78L1250.82,546.79L1252.33,546.81L1253.83,546.83L1255.33,546.84L1256.84,546.85L1258.34,546.85L1259.85,546.85L1261.35,546.85L1262.86,546.85L1264.36,546.86L1265.87,546.86L1267.37,546.86L1268.88,546.86L1270.38,546.86L1271.89,546.86L1273.39,546.86L1274.89,546.86L1276.4,546.86L1277.9,546.86L1279.41,546.86L1280.91,546.86L1282.42,546.86L1283.92,546.86L1285.43,546.86L1286.93,546.86L1288.44,546.86L1289.94,546.86L1291.45,546.86L1292.95,546.86L1294.45,546.86L1295.96,546.86L1297.46,546.86L1298.97,546.86L1300.47,546.86L1301.98,546.85L1303.48,546.85L1304.99,546.85L1306.49,546.85L1308,546.85L1309.5,546.85L1311.01,546.85L1312.51,546.85L1314.01,546.85L1315.52,546.85L1317.02,546.85L1318.53,546.85L1320.03,546.84L1321.54,546.84L1323.04,546.83L1324.55,546.83L1326.05,546.82L1327.56,546.82L1329.06,546.81L1330.57,546.8L1332.07,546.8L1333.57,546.79L1335.08,546.78L1336.58,546.78L1338.09,546.77L1339.59,546.76L1341.1,546.75L1342.6,546.71L1344.1,546.63L1345.58,546.44L1347.03,546.11L1348.45,545.64L1349.84,545.08L1351.2,544.44L1352.53,543.74L1353.84,543.01L1355.12,542.22L1356.36,541.37L1357.56,540.47L1358.74,539.54L1359.89,538.57L1361.03,537.59L1362.16,536.6L1363.29,535.6L1364.43,534.62L1365.57,533.64L1366.73,532.69L1367.92,531.76L1369.11,530.84L1370.32,529.94L1371.53,529.05L1372.74,528.17L1373.97,527.29L1375.21,526.44L1376.46,525.61L1377.74,524.81L1379.04,524.06L1380.36,523.34L1381.7,522.66L1383.06,522.03L1384.45,521.46L1385.87,520.98L1387.31,520.62L1388.78,520.43L1390.27,520.4L1391.76,520.45L1393.24,520.46L1394.67,520.25L1396.01,519.76L1397.25,519L1398.34,518.03L1399.26,516.89L1399.98,515.62L1400.53,514.24L1400.97,512.81L1401.35,511.36L1401.68,509.89L1401.97,508.42L1402.21,506.94L1402.41,505.45L1402.58,503.95L1402.72,502.45L1402.86,500.95L1402.99,499.46L1403.11,497.96L1403.24,496.46L1403.36,494.96L1403.48,493.46L1403.61,491.96L1403.73,490.46L1403.84,488.96L1403.96,487.46L1404.06,485.96L1404.17,484.46L1404.27,482.95L1404.37,481.45L1404.47,479.95L1404.58,478.45L1404.68,476.95L1404.79,475.45L1404.9,473.95L1405.02,472.45L1405.14,470.95L1405.28,469.45L1405.43,467.95L1405.58,466.46L1405.74,464.96L1405.91,463.47L1406.08,461.97L1406.26,460.48L1406.45,458.99L1406.66,457.5L1406.89,456.01L1407.16,454.53L1407.49,453.06L1407.87,451.62L1408.32,450.21L1408.87,448.96L1409.53,448.12L1410.27,447.97L1410.99,448.6L1411.59,449.74L1412.1,451.1L1412.56,452.53L1412.98,453.97L1413.38,455.42L1413.75,456.88L1414.1,458.34L1414.42,459.81L1414.73,461.28L1415.05,462.75L1415.42,464.21L1415.86,465.63L1416.43,466.95L1417.16,468.01L1418.05,468.53L1419.01,468.32L1419.92,467.5L1420.72,466.33L1421.44,465.02L1422.1,463.68L1422.73,462.31L1423.34,460.94L1423.93,459.55L1424.5,458.16L1425.06,456.77L1425.62,455.37L1426.17,453.97L1426.73,452.57L1427.29,451.18L1427.86,449.78L1428.44,448.4L1429.03,447.01L1429.61,445.62L1430.2,444.24L1430.78,442.85L1431.36,441.46L1431.93,440.07L1432.48,438.67L1433.02,437.27L1433.55,435.86L1434.05,434.44L1434.54,433.02L1435.02,431.59L1435.47,430.15L1435.92,428.72L1436.35,427.28L1436.77,425.83L1437.19,424.39L1437.6,422.94L1438,421.49L1438.41,420.04L1438.81,418.59L1439.2,417.14L1439.6,415.69L1440,414.24L1440.4,412.79L1440.8,411.34L1441.21,409.89L1441.62,408.44L1442.02,406.99L1442.42,405.54L1442.81,404.09L1443.19,402.63L1443.56,401.17L1443.92,399.71L1444.29,398.25L1444.65,396.79L1445.02,395.33L1445.4,393.88L1445.79,392.42L1446.2,390.98L1446.63,389.54L1447.1,388.11L1447.62,386.7L1448.23,385.34L1448.96,384.04L1449.83,382.87L1450.87,381.93L1452.07,381.39L1453.34,381.38L1454.59,381.87L1455.72,382.74L1456.73,383.81L1457.63,384.99L1458.46,386.24L1459.22,387.54L1459.91,388.87L1460.55,390.23L1461.14,391.62L1461.7,393.01L1462.24,394.41L1462.77,395.82L1463.3,397.23L1463.82,398.64L1464.35,400.05L1464.88,401.46L1465.41,402.87L1465.94,404.28L1466.46,405.69L1467,407.09L1467.54,408.5L1468.08,409.9L1468.62,411.31L1469.17,412.71L1469.72,414.11L1470.27,415.51L1470.82,416.91L1471.38,418.31L1471.94,419.7L1472.51,421.09L1473.09,422.48L1473.68,423.86L1474.28,425.24L1474.89,426.62L1475.52,427.99L1476.15,429.35L1476.79,430.71L1477.45,432.07L1478.11,433.42L1478.78,434.77L1479.46,436.11L1480.15,437.45L1480.85,438.78L1481.56,440.11L1482.28,441.42L1483.01,442.74L1483.76,444.04L1484.52,445.35L1485.28,446.64L1486.05,447.93L1486.84,449.22L1487.63,450.5L1488.43,451.77L1489.25,453.03L1490.07,454.29L1490.91,455.54L1491.76,456.78L1492.63,458.01L1493.5,459.23L1494.39,460.45L1495.28,461.66L1496.19,462.86L1497.1,464.06L1498.03,465.24L1498.97,466.41L1499.92,467.58L1500.89,468.73L1501.87,469.88L1502.86,471.01L1503.85,472.14L1504.86,473.25L1505.88,474.36L1506.91,475.46L1507.95,476.54L1509.01,477.61L1510.08,478.67L1511.15,479.73L1512.24,480.77L1513.33,481.8L1514.44,482.82L1515.56,483.82L1516.69,484.82L1517.82,485.8L1518.97,486.77L1520.13,487.74L1521.3,488.69L1522.47,489.62L1523.66,490.55L1524.85,491.47L1526.06,492.37L1527.27,493.26L1528.49,494.14L1529.72,495L1530.96,495.86L1532.2,496.7L1533.46,497.53L1534.72,498.35L1535.99,499.16L1537.27,499.96L1538.55,500.74L1539.84,501.52L1541.14,502.28L1542.44,503.03L1543.75,503.76L1545.07,504.49L1546.39,505.21L1547.72,505.91L1549.06,506.61L1550.4,507.29L1551.74,507.96L1553.1,508.62L1554.45,509.27L1555.81,509.91L1557.18,510.54L1558.55,511.16L1559.93,511.77L1561.31,512.36L1562.69,512.95L1564.08,513.53L1565.48,514.1L1566.87,514.66L1568.27,515.21L1569.68,515.74L1571.09,516.27L1572.5,516.79L1573.91,517.31L1575.33,517.81L1576.75,518.3L1578.18,518.78L1579.61,519.26L1581.04,519.73L1582.47,520.19L1583.9,520.64L1585.34,521.08L1586.78,521.51L1588.23,521.94L1589.67,522.36L1591.12,522.77L1592.57,523.17L1594.02,523.56L1595.47,523.95L1596.93,524.33L1598.39,524.71L1599.85,525.07L1601.31,525.43L1602.77,525.78L1604.24,526.13L1605.7,526.47L1607.17,526.8L1608.64,527.13L1610.11,527.45L1611.58,527.76L1613.05,528.07L1614.53,528.37L1616,528.67L1617.48,528.96L1618.95,529.24L1620.43,529.52L1621.91,529.8L1623.39,530.07L1624.87,530.33L1626.36,530.59L1627.84,530.84L1629.32,531.09L1630.81,531.33L1632.29,531.57L1633.78,531.81L1635.27,532.04L1636.75,532.26L1638.24,532.48L1639.73,532.7L1641.22,532.91L1642.71,533.12L1644.2,533.32L1645.69,533.52L1647.19,533.72L1648.68,533.91L1650.17,534.1L1651.66,534.28L1653.16,534.46L1654.65,534.64L1656.15,534.81L1657.64,534.98L1659.14,535.15L1660.63,535.31L1662.13,535.47L1663.62,535.63L1665.12,535.78L1666.62,535.93L1668.12,536.08L1669.61,536.23L1671.11,536.37L1672.61,536.51L1674.11,536.64L1675.61,536.78L1677.11,536.91L1678.6,537.03L1680.1,537.16L1681.6,537.28L1683.1,537.4L1684.6,537.52L1686.1,537.64L1687.6,537.75L1689.1,537.86L1690.6,537.97L1692.11,538.08L1693.61,538.18L1695.11,538.29L1696.61,538.39L1698.11,538.48L1699.61,538.58L1701.11,538.68L1702.62,538.77L1704.12,538.86L1705.62,538.95L1707.12,539.04L1708.62,539.12L1710.13,539.2L1711.63,539.29L1713.13,539.37L1714.63,539.45L1716.14,539.52L1717.64,539.6L1719.14,539.67L1720.64,539.74L1722.15,539.82L1723.65,539.89L1725.15,539.95L1726.66,540.02L1728.16,540.09L1729.66,540.15L1731.17,540.21L1732.67,540.27L1734.17,540.34L1735.68,540.39L1737.18,540.45L1738.68,540.51L1740.19,540.56L1741.69,540.62L1743.19,540.67L1744.7,540.73L1746.2,540.78L1747.71,540.83L1749.21,540.88L1750.71,540.92L1752.22,540.97L1753.72,541.02L1755.22,541.06L1756.73,541.11L1758.23,541.15L1759.74,541.19L1761.24,541.24L1762.74,541.28L1764.25,541.32L1765.75,541.36L1767.26,541.39L1768.76,541.43L1770.27,541.47L1771.77,541.51L1773.27,541.54L1774.78,541.58L1776.28,541.61L1777.79,541.64L1779.29,541.68L1780.79,541.71L1782.3,541.74L1783.8,541.77L1785.31,541.8L1786.81,541.83L1788.32,541.86L1789.82,541.89L1791.33,541.92L1792.83,541.94L1794.33,541.97L1795.84,542L1797.34,542.02L1798.85,542.05L1800.35,542.07L1801.86,542.09L1803.36,542.12L1804.86,542.14L1806.37,542.16L1807.87,542.19L1809.38,542.21L1810.88,542.23L1812.34,542.25L1813.66,542.27L1814.63,542.28" fill="none" stroke="#1670b5" stroke-width="3.4" stroke-linejoin="round"/>
<line x1="93.7" y1="554.9" x2="93.7" y2="62" stroke="#231f20" stroke-width="3.2"/>
<path d="M93.7,49 L87.7,64 L99.7,64 Z" fill="#231f20"/>
<line x1="85.7" y1="553.4" x2="885.1" y2="553.4" stroke="#231f20" stroke-width="3.2"/>
<path d="M899.1,553.4 L884.1,547.2 L884.1,559.6 Z" fill="#231f20"/>
<text x="78.2" y="558.3" font-size="17.6" fill="#222" text-anchor="end" >0</text>
<line x1="85.7" y1="493.89" x2="93.7" y2="493.89" stroke="#231f20" stroke-width="3"/>
<text x="78.2" y="499.14" font-size="17.6" fill="#222" text-anchor="end" >10</text>
<line x1="85.7" y1="434.38" x2="93.7" y2="434.38" stroke="#231f20" stroke-width="3"/>
<text x="78.2" y="439.98" font-size="17.6" fill="#222" text-anchor="end" >20</text>
<line x1="85.7" y1="374.87" x2="93.7" y2="374.87" stroke="#231f20" stroke-width="3"/>
<text x="78.2" y="380.82" font-size="17.6" fill="#222" text-anchor="end" >30</text>
<line x1="85.7" y1="315.36" x2="93.7" y2="315.36" stroke="#231f20" stroke-width="3"/>
<text x="78.2" y="321.66" font-size="17.6" fill="#222" text-anchor="end" >40</text>
<line x1="85.7" y1="255.85" x2="93.7" y2="255.85" stroke="#231f20" stroke-width="3"/>
<text x="78.2" y="262.5" font-size="17.6" fill="#222" text-anchor="end" >50</text>
<line x1="85.7" y1="196.34" x2="93.7" y2="196.34" stroke="#231f20" stroke-width="3"/>
<text x="78.2" y="203.34" font-size="17.6" fill="#222" text-anchor="end" >60</text>
<line x1="85.7" y1="136.83" x2="93.7" y2="136.83" stroke="#231f20" stroke-width="3"/>
<text x="78.2" y="144.18" font-size="17.6" fill="#222" text-anchor="end" >70</text>
<line x1="85.7" y1="77.32" x2="93.7" y2="77.32" stroke="#231f20" stroke-width="3"/>
<text x="78.2" y="85.02" font-size="17.6" fill="#222" text-anchor="end" >80</text>
<line x1="93.7" y1="553.4" x2="93.7" y2="561.4" stroke="#231f20" stroke-width="2.8"/>
<text transform="translate(91,583.3) scale(0.6,1)" font-size="19.6" font-weight="bold" fill="#1e1e1e" text-anchor="middle">-180</text>
<line x1="169.3" y1="553.4" x2="169.3" y2="561.4" stroke="#231f20" stroke-width="2.8"/>
<text transform="translate(166.9,583.3) scale(0.6,1)" font-size="19.6" font-weight="bold" fill="#1e1e1e" text-anchor="middle">-160</text>
<line x1="244.9" y1="553.4" x2="244.9" y2="561.4" stroke="#231f20" stroke-width="2.8"/>
<text transform="translate(242.8,583.3) scale(0.6,1)" font-size="19.6" font-weight="bold" fill="#1e1e1e" text-anchor="middle">-140</text>
<line x1="320.5" y1="553.4" x2="320.5" y2="561.4" stroke="#231f20" stroke-width="2.8"/>
<text transform="translate(318.7,583.3) scale(0.6,1)" font-size="19.6" font-weight="bold" fill="#1e1e1e" text-anchor="middle">-120</text>
<line x1="396.1" y1="553.4" x2="396.1" y2="561.4" stroke="#231f20" stroke-width="2.8"/>
<text transform="translate(394.6,583.3) scale(0.6,1)" font-size="19.6" font-weight="bold" fill="#1e1e1e" text-anchor="middle">-100</text>
<line x1="471.7" y1="553.4" x2="471.7" y2="561.4" stroke="#231f20" stroke-width="2.8"/>
<text transform="translate(470.5,583.3) scale(0.6,1)" font-size="19.6" font-weight="bold" fill="#1e1e1e" text-anchor="middle">-80</text>
<line x1="547.3" y1="553.4" x2="547.3" y2="561.4" stroke="#231f20" stroke-width="2.8"/>
<text transform="translate(546.4,583.3) scale(0.6,1)" font-size="19.6" font-weight="bold" fill="#1e1e1e" text-anchor="middle">-60</text>
<line x1="622.9" y1="553.4" x2="622.9" y2="561.4" stroke="#231f20" stroke-width="2.8"/>
<text transform="translate(622.3,583.3) scale(0.6,1)" font-size="19.6" font-weight="bold" fill="#1e1e1e" text-anchor="middle">-40</text>
<line x1="698.5" y1="553.4" x2="698.5" y2="561.4" stroke="#231f20" stroke-width="2.8"/>
<text transform="translate(698.2,583.3) scale(0.6,1)" font-size="19.6" font-weight="bold" fill="#1e1e1e" text-anchor="middle">-20</text>
<line x1="774.1" y1="553.4" x2="774.1" y2="561.4" stroke="#231f20" stroke-width="2.8"/>
<text transform="translate(774.1,583.3) scale(0.6,1)" font-size="19.6" font-weight="bold" fill="#1e1e1e" text-anchor="middle">0</text>
<line x1="849.7" y1="553.4" x2="849.7" y2="561.4" stroke="#231f20" stroke-width="2.8"/>
<text transform="translate(850,583.3) scale(0.6,1)" font-size="19.6" font-weight="bold" fill="#1e1e1e" text-anchor="middle">20</text>
<line x1="1059.5" y1="554.9" x2="1059.5" y2="62" stroke="#231f20" stroke-width="3.2"/>
<path d="M1059.5,49 L1053.5,64 L1065.5,64 Z" fill="#231f20"/>
<line x1="1051.5" y1="553.4" x2="1851.1" y2="553.4" stroke="#231f20" stroke-width="3.2"/>
<path d="M1865.1,553.4 L1850.1,547.2 L1850.1,559.6 Z" fill="#231f20"/>
<text x="1044" y="558.3" font-size="17.6" fill="#222" text-anchor="end" >0</text>
<line x1="1051.5" y1="493.89" x2="1059.5" y2="493.89" stroke="#231f20" stroke-width="3"/>
<text x="1044" y="499.14" font-size="17.6" fill="#222" text-anchor="end" >10</text>
<line x1="1051.5" y1="434.38" x2="1059.5" y2="434.38" stroke="#231f20" stroke-width="3"/>
<text x="1044" y="439.98" font-size="17.6" fill="#222" text-anchor="end" >20</text>
<line x1="1051.5" y1="374.87" x2="1059.5" y2="374.87" stroke="#231f20" stroke-width="3"/>
<text x="1044" y="380.82" font-size="17.6" fill="#222" text-anchor="end" >30</text>
<line x1="1051.5" y1="315.36" x2="1059.5" y2="315.36" stroke="#231f20" stroke-width="3"/>
<text x="1044" y="321.66" font-size="17.6" fill="#222" text-anchor="end" >40</text>
<line x1="1051.5" y1="255.85" x2="1059.5" y2="255.85" stroke="#231f20" stroke-width="3"/>
<text x="1044" y="262.5" font-size="17.6" fill="#222" text-anchor="end" >50</text>
<line x1="1051.5" y1="196.34" x2="1059.5" y2="196.34" stroke="#231f20" stroke-width="3"/>
<text x="1044" y="203.34" font-size="17.6" fill="#222" text-anchor="end" >60</text>
<line x1="1051.5" y1="136.83" x2="1059.5" y2="136.83" stroke="#231f20" stroke-width="3"/>
<text x="1044" y="144.18" font-size="17.6" fill="#222" text-anchor="end" >70</text>
<line x1="1051.5" y1="77.32" x2="1059.5" y2="77.32" stroke="#231f20" stroke-width="3"/>
<text x="1044" y="85.02" font-size="17.6" fill="#222" text-anchor="end" >80</text>
<line x1="1059.5" y1="553.4" x2="1059.5" y2="561.4" stroke="#231f20" stroke-width="2.8"/>
<text transform="translate(1056.7,583.3) scale(0.6,1)" font-size="19.6" font-weight="bold" fill="#1e1e1e" text-anchor="middle">-180</text>
<line x1="1101.5" y1="553.4" x2="1101.5" y2="561.4" stroke="#231f20" stroke-width="2.8"/>
<text transform="translate(1098.92,583.3) scale(0.6,1)" font-size="19.6" font-weight="bold" fill="#1e1e1e" text-anchor="middle">-160</text>
<line x1="1143.49" y1="553.4" x2="1143.49" y2="561.4" stroke="#231f20" stroke-width="2.8"/>
<text transform="translate(1141.15,583.3) scale(0.6,1)" font-size="19.6" font-weight="bold" fill="#1e1e1e" text-anchor="middle">-140</text>
<line x1="1185.49" y1="553.4" x2="1185.49" y2="561.4" stroke="#231f20" stroke-width="2.8"/>
<text transform="translate(1183.37,583.3) scale(0.6,1)" font-size="19.6" font-weight="bold" fill="#1e1e1e" text-anchor="middle">-120</text>
<line x1="1227.48" y1="553.4" x2="1227.48" y2="561.4" stroke="#231f20" stroke-width="2.8"/>
<text transform="translate(1225.59,583.3) scale(0.6,1)" font-size="19.6" font-weight="bold" fill="#1e1e1e" text-anchor="middle">-100</text>
<line x1="1269.47" y1="553.4" x2="1269.47" y2="561.4" stroke="#231f20" stroke-width="2.8"/>
<text transform="translate(1267.81,583.3) scale(0.6,1)" font-size="19.6" font-weight="bold" fill="#1e1e1e" text-anchor="middle">-80</text>
<line x1="1311.47" y1="553.4" x2="1311.47" y2="561.4" stroke="#231f20" stroke-width="2.8"/>
<text transform="translate(1310.03,583.3) scale(0.6,1)" font-size="19.6" font-weight="bold" fill="#1e1e1e" text-anchor="middle">-60</text>
<line x1="1353.46" y1="553.4" x2="1353.46" y2="561.4" stroke="#231f20" stroke-width="2.8"/>
<text transform="translate(1352.26,583.3) scale(0.6,1)" font-size="19.6" font-weight="bold" fill="#1e1e1e" text-anchor="middle">-40</text>
<line x1="1395.46" y1="553.4" x2="1395.46" y2="561.4" stroke="#231f20" stroke-width="2.8"/>
<text transform="translate(1394.48,583.3) scale(0.6,1)" font-size="19.6" font-weight="bold" fill="#1e1e1e" text-anchor="middle">-20</text>
<line x1="1437.45" y1="553.4" x2="1437.45" y2="561.4" stroke="#231f20" stroke-width="2.8"/>
<text transform="translate(1436.7,583.3) scale(0.6,1)" font-size="19.6" font-weight="bold" fill="#1e1e1e" text-anchor="middle">0</text>
<line x1="1479.44" y1="553.4" x2="1479.44" y2="561.4" stroke="#231f20" stroke-width="2.8"/>
<text transform="translate(1478.92,583.3) scale(0.6,1)" font-size="19.6" font-weight="bold" fill="#1e1e1e" text-anchor="middle">20</text>
<line x1="1521.44" y1="553.4" x2="1521.44" y2="561.4" stroke="#231f20" stroke-width="2.8"/>
<text transform="translate(1521.14,583.3) scale(0.6,1)" font-size="19.6" font-weight="bold" fill="#1e1e1e" text-anchor="middle">40</text>
<line x1="1563.43" y1="553.4" x2="1563.43" y2="561.4" stroke="#231f20" stroke-width="2.8"/>
<text transform="translate(1563.37,583.3) scale(0.6,1)" font-size="19.6" font-weight="bold" fill="#1e1e1e" text-anchor="middle">60</text>
<line x1="1605.43" y1="553.4" x2="1605.43" y2="561.4" stroke="#231f20" stroke-width="2.8"/>
<text transform="translate(1605.59,583.3) scale(0.6,1)" font-size="19.6" font-weight="bold" fill="#1e1e1e" text-anchor="middle">80</text>
<line x1="1647.42" y1="553.4" x2="1647.42" y2="561.4" stroke="#231f20" stroke-width="2.8"/>
<text transform="translate(1647.81,583.3) scale(0.6,1)" font-size="19.6" font-weight="bold" fill="#1e1e1e" text-anchor="middle">100</text>
<line x1="1689.41" y1="553.4" x2="1689.41" y2="561.4" stroke="#231f20" stroke-width="2.8"/>
<text transform="translate(1690.03,583.3) scale(0.6,1)" font-size="19.6" font-weight="bold" fill="#1e1e1e" text-anchor="middle">120</text>
<line x1="1731.41" y1="553.4" x2="1731.41" y2="561.4" stroke="#231f20" stroke-width="2.8"/>
<text transform="translate(1732.25,583.3) scale(0.6,1)" font-size="19.6" font-weight="bold" fill="#1e1e1e" text-anchor="middle">140</text>
<line x1="1773.4" y1="553.4" x2="1773.4" y2="561.4" stroke="#231f20" stroke-width="2.8"/>
<text transform="translate(1774.48,583.3) scale(0.6,1)" font-size="19.6" font-weight="bold" fill="#1e1e1e" text-anchor="middle">160</text>
<line x1="1815.4" y1="553.4" x2="1815.4" y2="561.4" stroke="#231f20" stroke-width="2.8"/>
<text transform="translate(1816.7,583.3) scale(0.6,1)" font-size="19.6" font-weight="bold" fill="#1e1e1e" text-anchor="middle">180</text>
<polygon points="706.7,227.5 718.7,226.4 700.3,245.8 703.3,246.9 684.2,268.7 694.4,249.6 692.1,247.6" fill="#e52530"/>
<path d="M676.5,272 L690.9,272 L683.7,281 Z" fill="#e52530"/>
<line x1="683.7" y1="286" x2="683.7" y2="551.9" stroke="#d0404e" stroke-width="1.6" stroke-dasharray="20 2.6 2.2 2.6"/>
<polygon points="1416.7,227.5 1428.7,226.4 1410.3,245.8 1413.3,246.9 1394.2,268.7 1404.4,249.6 1402.1,247.6" fill="#e52530"/>
<path d="M1386.5,272 L1400.9,272 L1393.7,281 Z" fill="#e52530"/>
<line x1="1393.7" y1="286" x2="1393.7" y2="551.9" stroke="#d0404e" stroke-width="1.6" stroke-dasharray="20 2.6 2.2 2.6"/>
<path d="M426.6,344.4 L683.3,488.8 L547.4,344.4" fill="#dbe5dc" stroke="#2e332f" stroke-width="1.25" stroke-linejoin="miter"/>
<rect x="142.9" y="292.1" width="485.6" height="52.3" fill="#dbe5dc" stroke="#2e332f" stroke-width="1.25"/>
<path d="M427.5,344.4 L546.5,344.4" stroke="#dbe5dc" stroke-width="3"/>
<text x="156.3" y="314.4" font-size="17.2" fill="#121412" text-anchor="start" >Chevauchement plus ou moins grand entre l’extrémité de</text>
<text x="156.3" y="335" font-size="17.2" fill="#121412" text-anchor="start" >l’injection et l’allumage à la bougie d’allumage</text>
<path d="M462,462.7 L640.3,519.2 L462,475.8" fill="#dbe5dc" stroke="#2e332f" stroke-width="1.25" stroke-linejoin="miter"/>
<rect x="226.4" y="432.3" width="235.6" height="52" fill="#dbe5dc" stroke="#2e332f" stroke-width="1.25"/>
<path d="M462,463.6 L462,474.9" stroke="#dbe5dc" stroke-width="3"/>
<text x="239" y="454.6" font-size="17.2" fill="#121412" text-anchor="start" >Injection plus ou moins</text>
<text x="239" y="474.6" font-size="17.2" fill="#121412" text-anchor="start" >retardée de la charge pilote</text>
<path d="M785.4,433 L713,415 L785.4,491.8" fill="#dbe5dc" stroke="#2e332f" stroke-width="1.25" stroke-linejoin="miter"/>
<rect x="785.4" y="295.8" width="154.4" height="236" fill="#dbe5dc" stroke="#2e332f" stroke-width="1.25"/>
<path d="M785.4,433.9 L785.4,490.9" stroke="#dbe5dc" stroke-width="3"/>
<text x="799.2" y="316.4" font-size="15.5" fill="#121412" text-anchor="start" >Contrôle de la</text>
<text x="799.2" y="336.4" font-size="15.5" fill="#121412" text-anchor="start" >vitesse de</text>
<text x="799.2" y="354.6" font-size="15.5" fill="#121412" text-anchor="start" >combustion de la</text>
<text x="799.2" y="373.4" font-size="15.5" fill="#121412" text-anchor="start" >charge pilote : plus</text>
<text x="799.2" y="391" font-size="15.5" fill="#121412" text-anchor="start" >le chevauchement</text>
<text x="799.2" y="409.9" font-size="15.5" fill="#121412" text-anchor="start" >entre la fin</text>
<text x="799.2" y="428.2" font-size="15.5" fill="#121412" text-anchor="start" >d’injection et</text>
<text x="799.2" y="446.3" font-size="15.5" fill="#121412" text-anchor="start" >l’étincelle à la</text>
<text x="799.2" y="467" font-size="15.5" fill="#121412" text-anchor="start" >bougie d’allumage</text>
<text x="799.2" y="485.2" font-size="15.5" fill="#121412" text-anchor="start" >est important, plus</text>
<text x="799.2" y="503.5" font-size="15.5" fill="#121412" text-anchor="start" >la combustion est</text>
<text x="799.2" y="520.7" font-size="15.5" fill="#121412" text-anchor="start" >rapide</text>
<path d="M1141.3,477.1 L1210.6,538.4 L1207.7,477.1" fill="#dbe5dc" stroke="#2e332f" stroke-width="1.25" stroke-linejoin="miter"/>
<rect x="1097.5" y="404.5" width="263.5" height="72.6" fill="#dbe5dc" stroke="#2e332f" stroke-width="1.25"/>
<path d="M1142.2,477.1 L1206.8,477.1" stroke="#dbe5dc" stroke-width="3"/>
<text x="1110.3" y="426.3" font-size="17.2" fill="#121412" text-anchor="start" >Pré-injection minimale pour</text>
<text x="1110.3" y="446.6" font-size="17.2" fill="#121412" text-anchor="start" >éliminer les gaz brûlés</text>
<text x="1110.3" y="468.9" font-size="17.2" fill="#121412" text-anchor="start" >résiduels dans la préchambre</text>
<path d="M1610.2,348.3 L1403.6,516.5 L1680,348.3" fill="#dbe5dc" stroke="#2e332f" stroke-width="1.25" stroke-linejoin="miter"/>
<rect x="1563.6" y="254.6" width="280" height="93.7" fill="#dbe5dc" stroke="#2e332f" stroke-width="1.25"/>
<path d="M1611.1,348.3 L1679.1,348.3" stroke="#dbe5dc" stroke-width="3"/>
<text x="1576" y="276.4" font-size="17.2" fill="#121412" text-anchor="start" >Injection à basse pression pour</text>
<text x="1576" y="296.6" font-size="17.2" fill="#121412" text-anchor="start" >éviter de recondenser la charge</text>
<text x="1576" y="318.9" font-size="17.2" fill="#121412" text-anchor="start" >pilote dans la préchambre et</text>
<text x="1576" y="339.2" font-size="17.2" fill="#121412" text-anchor="start" >dans le circuit d’alimentation</text>
<line x1="638.4" y1="534.1" x2="670" y2="508.8" stroke="#1f5a78" stroke-width="3"/>
<path d="M656.2,518.5 L693.4,518.5 L693.4,513.9 L703.7,523.5 L693.4,533.3 L693.4,528.9 L656.2,528.9 Z" fill="#1e5f86"/>
<rect x="510.9" y="48.2" width="309.9" height="75.2" fill="#a90303"/>
<text x="520.8" y="70.7" font-size="17.2" fill="#fff" text-anchor="start" >Contrôler la durée de combustion de</text>
<text x="520.8" y="91.8" font-size="17.2" fill="#fff" text-anchor="start" >la charge pilote en ajustant le TKE</text>
<text x="520.8" y="112.9" font-size="17.2" fill="#fff" text-anchor="start" >dans la préchambre</text>
<rect x="1444.1" y="58.1" width="342.1" height="54.4" fill="#a90303"/>
<text x="1454.2" y="80.8" font-size="17.2" fill="#fff" text-anchor="start" >Démarrage à froid efficace, même à très</text>
<text x="1454.2" y="101.3" font-size="17.2" fill="#fff" text-anchor="start" >basse température (exemple : -30°C)</text>
<rect x="766.6" y="144.9" width="153.4" height="19.1" fill="#4d524f"/>
<text x="844.2" y="158.8" font-size="11.2" fill="#f2f2f2" text-anchor="middle" >TKE élevée à la bougie</text>
<rect x="1799" y="130.8" width="79.4" height="18" fill="#4d524f"/>
<text x="1838.6" y="144" font-size="11.5" fill="#f2f2f2" text-anchor="middle" >-30°C</text>
<rect x="838" y="33" width="30" height="105" fill="#fff"/>
<g fill="none" stroke="#555555" stroke-width="3" stroke-linejoin="round" stroke-linecap="round">
<rect x="848.3" y="36.5" width="8.6" height="9.5"/>
<rect x="844.8" y="46" width="15.6" height="23.2"/>
<rect x="842.2" y="69.5" width="21.3" height="9" rx="4"/>
<rect x="842.6" y="79.5" width="20.5" height="8.2" rx="4"/>
<path d="M845.2,87.7 V122.5 M860.5,87.7 V118"/>
<path d="M841.5,97.8 L864.3,94 M841.5,105.3 L864.3,101.5 M841.5,112.8 L864.3,109 M841.5,120.3 L864.3,116.5"/>
<path d="M852.3,122.5 V127 M855.5,125 V135 H848.5"/>
</g>
<g fill="none" stroke="#0c1ea8" stroke-width="2.9" stroke-linecap="butt">
<path d="M880.4,82.8 A30.8,30.8 0 1 1 880.4,96.2"/>
<path d="M879.6,82.8 H903 A7.3,7.3 0 1 0 895.7,75.5"/>
<path d="M878.4,89.5 H923.4 A7.5,7.5 0 1 1 915.9,97"/>
<path d="M879.6,96.2 H901.6 A7.3,7.3 0 1 1 894.3,103.5"/>
</g>
<circle cx="1836.3" cy="85.4" r="36.4" fill="#1570cf"/>
<path d="M1836.3,85.4 L1836.3,57.1 M1836.3,67.2 L1842.46,60.86 M1836.3,67.2 L1830.14,60.86 M1836.3,76.8 L1840.5,72.48 M1836.3,76.8 L1832.1,72.48 M1836.3,85.4 L1811.79,71.25 M1820.54,76.3 L1818.13,67.8 M1820.54,76.3 L1811.97,78.47 M1828.85,81.1 L1827.21,75.3 M1828.85,81.1 L1823.01,82.58 M1836.3,85.4 L1811.79,99.55 M1820.54,94.5 L1811.97,92.33 M1820.54,94.5 L1818.13,103 M1828.85,89.7 L1823.01,88.22 M1828.85,89.7 L1827.21,95.5 M1836.3,85.4 L1836.3,113.7 M1836.3,103.6 L1830.14,109.94 M1836.3,103.6 L1842.46,109.94 M1836.3,94 L1832.1,98.32 M1836.3,94 L1840.5,98.32 M1836.3,85.4 L1860.81,99.55 M1852.06,94.5 L1854.47,103 M1852.06,94.5 L1860.63,92.33 M1843.75,89.7 L1845.39,95.5 M1843.75,89.7 L1849.59,88.22 M1836.3,85.4 L1860.81,71.25 M1852.06,76.3 L1860.63,78.47 M1852.06,76.3 L1854.47,67.8 M1843.75,81.1 L1849.59,82.58 M1843.75,81.1 L1845.39,75.3" stroke="#fff" stroke-width="3.3" stroke-linecap="butt" fill="none"/>
<text x="341.5" y="624.1" font-size="20.7" fill="#1a1a1a" text-anchor="start" >Angle vilebrequin (deg)</text>
<text transform="translate(29.4,382.4) rotate(-90)" font-size="20.4" fill="#1a1a1a">Pression (bar)</text>
<text x="1307" y="624.1" font-size="20.7" fill="#1a1a1a" text-anchor="start" >Angle vilebrequin (deg)</text>
<text transform="translate(993.4,382.4) rotate(-90)" font-size="20.4" fill="#1a1a1a">Pression (bar)</text>
</svg>
</body></html>
